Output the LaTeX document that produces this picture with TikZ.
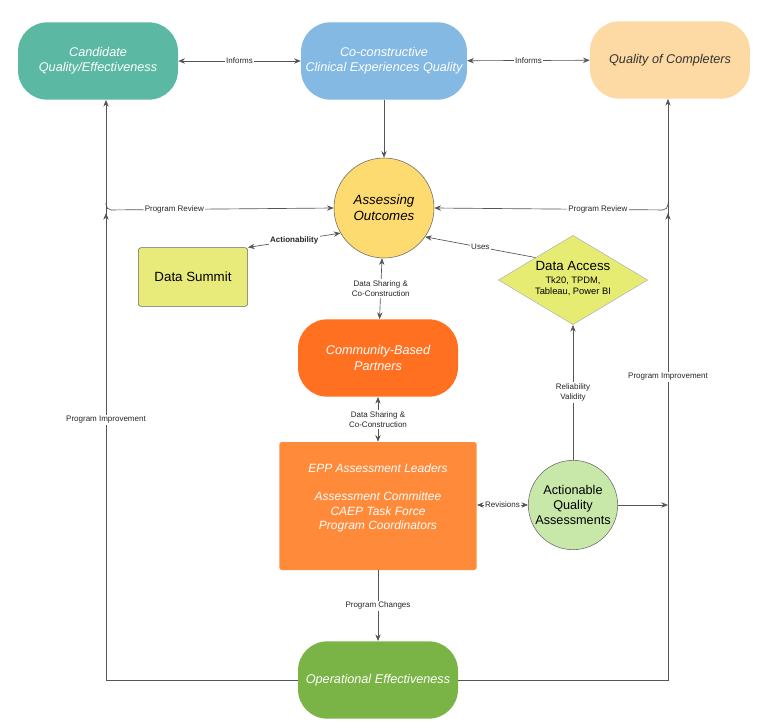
\documentclass[tikz,border=0pt]{standalone}
\usepackage{fontspec}
\setmainfont{Liberation Sans}
\usetikzlibrary{shapes.geometric,arrows.meta}
\definecolor{candc}{HTML}{5BB9A3}
\definecolor{coconc}{HTML}{83B9E3}
\definecolor{complc}{HTML}{FDD9A4}
\definecolor{assessc}{HTML}{FDDB70}
\definecolor{summitc}{HTML}{E8EA7A}
\definecolor{accessc}{HTML}{E6EC72}
\definecolor{commc}{HTML}{FF7021}
\definecolor{eppc}{HTML}{FF8A3A}
\definecolor{actc}{HTML}{C8E8AA}
\definecolor{opc}{HTML}{7BB446}
\definecolor{linec}{HTML}{555555}
\begin{document}
\begin{tikzpicture}[x=0.75pt,y=-0.75pt,
  every node/.style={font=\fontsize{9.5}{11.5}\selectfont, align=center},
  pill/.style={rounded corners=22pt, minimum width=120pt, minimum height=58pt, text=white, font=\fontsize{9.5}{11.5}\selectfont\itshape},
  lbl/.style={fill=white, inner sep=1pt, font=\fontsize{6}{7.5}\selectfont, text=black!85},
  conn/.style={draw=linec, line width=0.5pt, -{Stealth[length=5pt,width=4pt]}},
  conn2/.style={conn, {Stealth[length=5pt,width=4pt]}-{Stealth[length=5pt,width=4pt]}}]
 	\useasboundingbox (0,0) rectangle (771,728);
 	% top row
 	\node [pill, fill=candc] (cand) at (98,61) {Candidate\\Quality/Effectiveness};
 	\node [pill, fill=coconc] (cocon) at (384,61) {Co-constructive\\Clinical Experiences Quality};
 	\node [pill, fill=complc, text=black!80] (compl) at (670,60) {Quality of Completers};
 	% middle
 	\node [circle, draw=black!60, fill=assessc, minimum size=75pt, font=\fontsize{10}{12}\selectfont\itshape] (assess) at (384,208) {Assessing\\Outcomes};
 	\node [rectangle, rounded corners=2pt, draw=black!60, fill=summitc, minimum width=82pt, minimum height=44pt, font=\fontsize{10}{12}\selectfont] (summit) at (193,277) {Data Summit};
 	\node [diamond, draw=black!30, fill=accessc, minimum width=112pt, minimum height=67pt, inner sep=0pt, aspect=1.65] (access) at (573,280) {};
 	\node [font=\fontsize{10}{12}\selectfont] at (573,266) {Data Access};
 	\node [font=\fontsize{7}{8.5}\selectfont] at (573,286) {Tk20, TPDM,\\Tableau, Power BI};
 	\node [pill, fill=commc] (comm) at (378,358) {Community-Based\\Partners};
 	\node [rectangle, rounded corners=2pt, fill=eppc, minimum width=148pt, minimum height=96pt, text=white, font=\fontsize{9}{11}\selectfont\itshape] (epp) at (378,506) {};
 	\node [text=white, font=\fontsize{9}{11}\selectfont\itshape] at (378,468) {EPP Assessment Leaders};
 	\node [text=white, font=\fontsize{9}{11}\selectfont\itshape] at (378,512) {Assessment Committee\\CAEP Task Force\\Program Coordinators};
 	\node [circle, draw=black!60, fill=actc, minimum size=67pt, inner sep=0pt, font=\fontsize{9.5}{11.5}\selectfont] (act) at (573,505) {Actionable\\Quality\\Assessments};
 	\node [pill, fill=opc] (op) at (378,680) {Operational Effectiveness};
 	% corners of the side loops
 	\coordinate (lb) at (106,680);
 	\coordinate (rb) at (668,680);
 	\coordinate (lr) at (106,203);
 	\coordinate (rr) at (668,203);
 	% connectors
 	\draw [conn2] (cand) -- node [lbl] {Informs} (cocon);
 	\draw [conn2] (cocon) -- node [lbl] {Informs} (compl);
 	\draw [conn] (cocon) -- (assess);
 	\draw [conn] (op.west) -- (lb) -- (lb |- cand.south);
 	\draw [conn] (lb) -- (106,213);
 	\node [lbl] at (106,420) {Program Improvement};
 	\draw [conn] (op.east) -- (rb) -- (rb |- compl.south);
 	\draw [conn] (rb) -- (668,213);
 	\node [lbl] at (668,377) {Program Improvement};
 	\draw [conn, rounded corners=4pt] (lr) -- (106,210) -- node [lbl, pos=0.3] {Program Review} (assess.west);
 	\draw [conn, rounded corners=4pt] (rr) -- (668,210) -- node [lbl, pos=0.3] {Program Review} (assess.east);
 	\draw [conn2] (assess.210) -- node [lbl, font=\fontsize{6}{7.5}\selectfont\bfseries] {Actionability} (summit.north east);
 	\draw [conn] (access.north west) -- node [lbl] {Uses} (assess.-35);
 	\draw [conn2] (assess) -- node [lbl] {Data Sharing \&\\Co-Construction} (comm);
 	\draw [conn2] (comm) -- node [lbl] {Data Sharing \&\\Co-Construction} (epp);
 	\draw [conn2] (epp.east |- act) -- node [lbl] {Revisions} (act);
 	\draw [conn] (act) -- node [lbl] {Reliability\\Validity} (access);
 	\draw [conn] (act.east) -- (rb |- act);
 	\draw [conn] (epp) -- node [lbl] {Program Changes} (op);
\end{tikzpicture}
\end{document}
